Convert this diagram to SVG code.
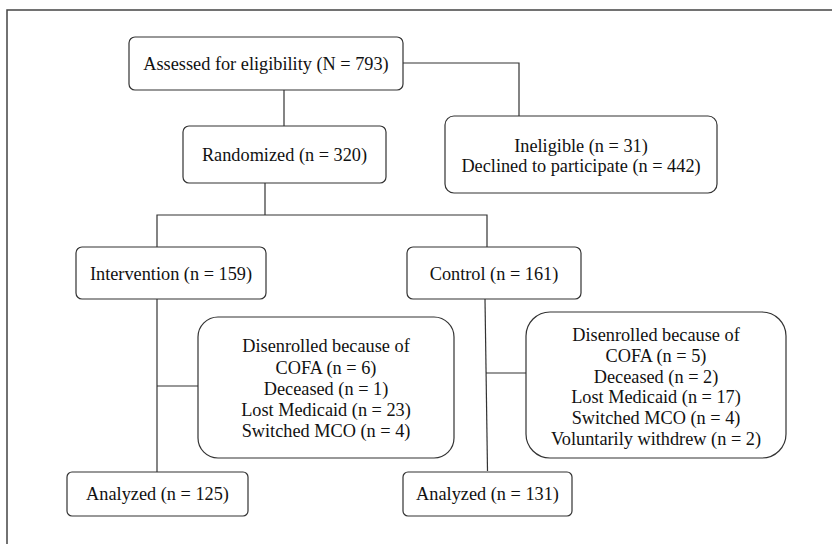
<svg xmlns="http://www.w3.org/2000/svg" width="832" height="544" viewBox="0 0 832 544">
<style>
.box{fill:#fff;stroke:#333;stroke-width:1.2}
.ln{fill:none;stroke:#333;stroke-width:1.2}
text{font-family:"Liberation Serif","Times New Roman",serif;font-size:18.3px;fill:#111;text-anchor:middle}
</style>
<rect x="0" y="0" width="832" height="544" fill="#fff"/>
<rect x="7" y="10" width="835" height="545" fill="none" stroke="#444" stroke-width="1.5"/>
<g id="connectors">
<path class="ln" d="M403 63 H519 V116"/>
<path class="ln" d="M284 90 V126"/>
<path class="ln" d="M265 183 V215"/>
<path class="ln" d="M157 247 V215 H487 V247"/>
<path class="ln" d="M157 299 V472"/>
<path class="ln" d="M157 386 H198"/>
<path class="ln" d="M485 299 L487.5 471"/>
<path class="ln" d="M486 373 H526"/>
</g>
<g id="assessed">
<rect class="box" x="129" y="37" width="274" height="53" rx="6"/>
<text x="266" y="70">Assessed for eligibility (N = 793)</text>
</g>
<g id="excluded">
<rect class="box" x="445" y="116" width="272" height="77" rx="9"/>
<text x="581" y="152">Ineligible (n = 31)</text>
<text x="581" y="172">Declined to participate (n = 442)</text>
</g>
<g id="randomized">
<rect class="box" x="183" y="126" width="203" height="57" rx="6"/>
<text x="284.5" y="161">Randomized (n = 320)</text>
</g>
<g id="intervention">
<rect class="box" x="76" y="247" width="190" height="52" rx="6"/>
<text x="171" y="280">Intervention (n = 159)</text>
</g>
<g id="control">
<rect class="box" x="407" y="247" width="174" height="52" rx="6"/>
<text x="494" y="280">Control (n = 161)</text>
</g>
<g id="disenrolled-intervention">
<rect class="box" x="198" y="317" width="256" height="141" rx="20"/>
<text x="326" y="352">Disenrolled because of</text>
<text x="326" y="374">COFA (n = 6)</text>
<text x="326" y="395">Deceased (n = 1)</text>
<text x="326" y="416">Lost Medicaid (n = 23)</text>
<text x="326" y="437">Switched MCO (n = 4)</text>
</g>
<g id="disenrolled-control">
<rect class="box" x="526" y="312" width="260" height="146" rx="24"/>
<text x="656" y="341">Disenrolled because of</text>
<text x="656" y="362">COFA (n = 5)</text>
<text x="656" y="383">Deceased (n = 2)</text>
<text x="656" y="403">Lost Medicaid (n = 17)</text>
<text x="656" y="424">Switched MCO (n = 4)</text>
<text x="656" y="445">Voluntarily withdrew (n = 2)</text>
</g>
<g id="analyzed-intervention">
<rect class="box" x="67" y="472" width="181" height="44" rx="5"/>
<text x="157.5" y="500">Analyzed (n = 125)</text>
</g>
<g id="analyzed-control">
<rect class="box" x="403" y="472" width="169" height="44" rx="5"/>
<text x="487.5" y="500">Analyzed (n = 131)</text>
</g>
</svg>
